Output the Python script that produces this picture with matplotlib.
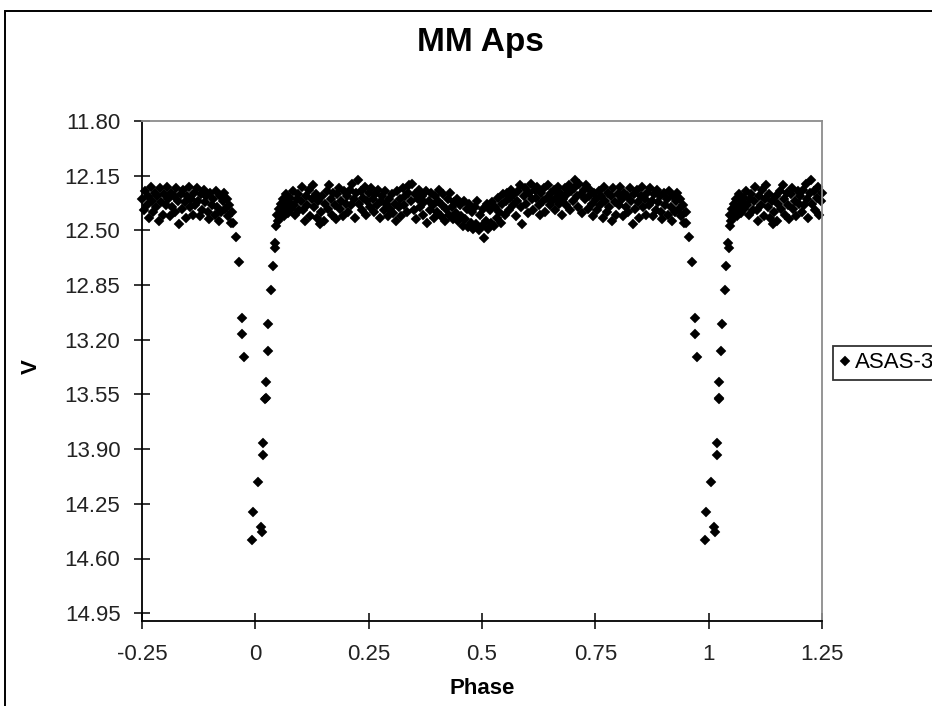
import matplotlib
matplotlib.use("Agg")
import matplotlib.pyplot as plt
from matplotlib.patches import Rectangle
import numpy as np

plt.rcParams['font.family'] = ['Liberation Sans', 'DejaVu Sans']

title = "MM Aps"
xlabel = "Phase"
ylabel = "V"
series_name = "ASAS-3"

x_ticks = [-0.25, 0, 0.25, 0.5, 0.75, 1, 1.25]
x_tick_labels = ["-0.25", "0", "0.25", "0.5", "0.75", "1", "1.25"]
y_ticks = [11.80, 12.15, 12.50, 12.85, 13.20, 13.55, 13.90, 14.25, 14.60, 14.95]
y_tick_labels = ["11.80", "12.15", "12.50", "12.85", "13.20", "13.55", "13.90", "14.25", "14.60", "14.95"]

# primary eclipse points (phase 0..1)
eclipse_phase = [0.951, 0.957, 0.963, 0.970, 0.970, 0.974, 0.993, 0.995,
                 0.005, 0.012, 0.015, 0.018, 0.018, 0.022, 0.023, 0.023,
                 0.027, 0.029, 0.035, 0.038, 0.044, 0.043]
eclipse_mag = [12.45, 12.54, 12.70, 13.06, 13.16, 13.31, 14.48, 14.30,
               14.11, 14.40, 14.43, 13.94, 13.86, 13.58, 13.57, 13.47,
               13.27, 13.10, 12.88, 12.73, 12.61, 12.58]

# out-of-eclipse points (phase 0..1)
band_phase = [
    0.046, 0.048, 0.050, 0.052, 0.054, 0.056, 0.058, 0.061, 0.063, 0.066, 0.068, 0.071, 0.074, 0.077, 0.079,
    0.082, 0.085, 0.088, 0.091, 0.094, 0.097,
    0.100, 0.103, 0.106, 0.109, 0.112, 0.115, 0.118, 0.121, 0.124, 0.127, 0.130, 0.133, 0.136, 0.139, 0.142,
    0.145, 0.148, 0.151, 0.154, 0.157, 0.160, 0.163, 0.166, 0.169, 0.172, 0.175, 0.178, 0.181, 0.184, 0.187,
    0.190, 0.193, 0.196, 0.199,
    0.202, 0.205, 0.208, 0.211, 0.214, 0.217, 0.220, 0.223, 0.226, 0.229, 0.232, 0.235, 0.238, 0.241, 0.244,
    0.247, 0.250, 0.253, 0.256, 0.259, 0.262, 0.265, 0.268, 0.271, 0.274, 0.277, 0.280, 0.283, 0.286, 0.289,
    0.292, 0.295, 0.298,
    0.301, 0.304, 0.307, 0.310, 0.313, 0.316, 0.319, 0.322, 0.325, 0.328, 0.331, 0.334, 0.337, 0.340, 0.343,
    0.346, 0.349, 0.352, 0.355, 0.358, 0.361, 0.364, 0.367, 0.370, 0.373, 0.376, 0.379, 0.382, 0.385, 0.388,
    0.391, 0.394, 0.397, 0.400, 0.403, 0.406, 0.409, 0.412, 0.415, 0.418, 0.421, 0.424, 0.427, 0.430, 0.433,
    0.436, 0.439,
    0.442, 0.445, 0.448, 0.451, 0.454, 0.457, 0.460, 0.463, 0.466, 0.469, 0.472, 0.475, 0.478, 0.481, 0.484,
    0.487, 0.490, 0.493, 0.496, 0.499, 0.502, 0.505, 0.508, 0.511, 0.514, 0.517, 0.520, 0.523, 0.526, 0.529,
    0.532, 0.535, 0.538, 0.541, 0.544, 0.547, 0.550, 0.553, 0.556,
    0.559, 0.562, 0.565, 0.568, 0.571, 0.574, 0.577, 0.580, 0.583, 0.586, 0.589, 0.592, 0.595, 0.598, 0.601,
    0.604, 0.607, 0.610, 0.613, 0.616, 0.619, 0.622, 0.625, 0.628, 0.631, 0.634, 0.637, 0.640, 0.643, 0.646,
    0.649, 0.652, 0.655, 0.658, 0.661, 0.664, 0.667, 0.670, 0.673, 0.676, 0.679, 0.682, 0.685, 0.688, 0.691,
    0.694, 0.697, 0.700, 0.703, 0.706, 0.709, 0.712, 0.715, 0.718, 0.721, 0.724, 0.727, 0.730, 0.733, 0.736,
    0.739, 0.742, 0.745, 0.748,
    0.751, 0.754, 0.757, 0.760, 0.763, 0.766, 0.769, 0.772, 0.775, 0.778, 0.781, 0.784, 0.787, 0.790, 0.793,
    0.796, 0.799, 0.802, 0.805, 0.808, 0.811, 0.814, 0.817, 0.820, 0.823, 0.826, 0.829, 0.832, 0.835, 0.838,
    0.841, 0.844, 0.847, 0.850, 0.853, 0.856, 0.859, 0.862, 0.865, 0.868, 0.871, 0.874, 0.877, 0.880, 0.883,
    0.886, 0.889, 0.892, 0.895, 0.898, 0.901, 0.904, 0.907, 0.910, 0.913, 0.916, 0.919, 0.922, 0.925, 0.928,
    0.931, 0.934, 0.937, 0.940, 0.943, 0.946, 0.949,
]
band_mag = [
    12.47, 12.40, 12.44, 12.36, 12.42, 12.33, 12.38, 12.30, 12.41, 12.35, 12.27, 12.39, 12.32, 12.29, 12.36,
    12.25, 12.34, 12.40, 12.30, 12.27, 12.37,
    12.31, 12.22, 12.37, 12.44, 12.28, 12.34, 12.24, 12.41, 12.30, 12.21,
    12.35, 12.27, 12.42, 12.31, 12.46, 12.38, 12.28, 12.44, 12.33, 12.25,
    12.36, 12.21, 12.30, 12.40, 12.26, 12.34, 12.43, 12.27, 12.23, 12.36,
    12.31, 12.41, 12.25, 12.33,
    12.28, 12.38, 12.24, 12.34, 12.20, 12.30, 12.42, 12.26, 12.18, 12.33,
    12.25, 12.37, 12.29, 12.22, 12.40, 12.31, 12.26, 12.35, 12.23, 12.30,
    12.38, 12.27, 12.34, 12.24, 12.42, 12.31, 12.28, 12.37, 12.25, 12.33,
    12.41, 12.30, 12.36,
    12.27, 12.39, 12.33, 12.44, 12.25, 12.35, 12.30, 12.41, 12.23, 12.34,
    12.28, 12.38, 12.26, 12.21, 12.31, 12.20, 12.37, 12.27, 12.43, 12.30,
    12.24, 12.35, 12.28, 12.40, 12.32, 12.25, 12.45, 12.31, 12.37, 12.26,
    12.34, 12.42, 12.28, 12.38, 12.31, 12.24, 12.41, 12.34, 12.27, 12.44,
    12.36, 12.30, 12.40, 12.26, 12.35, 12.43, 12.32,
    12.39, 12.30, 12.44, 12.34, 12.41, 12.47, 12.31, 12.43, 12.36, 12.48,
    12.33, 12.45, 12.38, 12.49, 12.35, 12.46, 12.31, 12.50, 12.40, 12.47,
    12.36, 12.55, 12.44, 12.33, 12.49, 12.37, 12.45, 12.32, 12.47, 12.35,
    12.42, 12.29, 12.38, 12.45, 12.33, 12.27, 12.40, 12.31, 12.26,
    12.37, 12.29, 12.24, 12.34, 12.27, 12.41, 12.31, 12.25, 12.21, 12.35,
    12.46, 12.28, 12.23, 12.33, 12.39, 12.26, 12.20, 12.30, 12.37, 12.24,
    12.29, 12.22, 12.34, 12.40, 12.26, 12.31, 12.23, 12.38, 12.29, 12.21,
    12.34, 12.26, 12.31, 12.24, 12.37, 12.29, 12.22, 12.33, 12.26, 12.40,
    12.30, 12.23, 12.34, 12.27, 12.21, 12.37, 12.25, 12.31, 12.23, 12.18,
    12.28, 12.35, 12.20, 12.27, 12.39, 12.24, 12.30, 12.21, 12.36, 12.28,
    12.24, 12.33, 12.41, 12.26,
    12.30, 12.37, 12.25, 12.34, 12.28, 12.42, 12.22, 12.31, 12.38, 12.26,
    12.35, 12.28, 12.44, 12.23, 12.32, 12.40, 12.27, 12.34, 12.22, 12.30,
    12.41, 12.26, 12.35, 12.28, 12.38, 12.23, 12.31, 12.46, 12.27, 12.36,
    12.24, 12.32, 12.42, 12.28, 12.22, 12.35, 12.30, 12.40, 12.26, 12.34,
    12.23, 12.31, 12.41, 12.27, 12.37, 12.24, 12.32, 12.28, 12.38, 12.43,
    12.26, 12.34, 12.30, 12.40, 12.25, 12.35, 12.44, 12.28, 12.38, 12.31,
    12.26, 12.36, 12.30, 12.41, 12.34, 12.45, 12.38,
]

phase = np.array(band_phase + eclipse_phase)
mag = np.array(band_mag + eclipse_mag)
# phase-folded display from -0.25 to 1.25
plot_phase = np.concatenate([phase - 1.0, phase + 1.0, phase])
plot_mag = np.concatenate([mag, mag, mag])
keep = (plot_phase >= -0.25) & (plot_phase <= 1.25)
plot_phase = plot_phase[keep]
plot_mag = plot_mag[keep]

fig = plt.figure(figsize=(9.32, 7.06), dpi=100)
ax = fig.add_axes([142/932, 1 - 621/706, (822-142)/932, (621-121)/706])

ax.plot(plot_phase, plot_mag, linestyle='none', marker='D', ms=4.6,
        color='black', mec='black', mew=0.3, clip_on=False, label=series_name)

ax.set_xlim(-0.25, 1.25)
ax.set_ylim(15.0, 11.8)
ax.set_xticks(x_ticks)
ax.set_xticklabels(x_tick_labels)
ax.set_yticks(y_ticks)
ax.set_yticklabels(y_tick_labels)
ax.tick_params(axis='both', direction='inout', length=11, width=1.1,
               labelsize=16, colors='black', labelcolor='#222222')
ax.tick_params(axis='y', pad=10)
ax.tick_params(axis='x', pad=11)

for s in ['left', 'bottom']:
    ax.spines[s].set_color('black')
    ax.spines[s].set_linewidth(1.3)
for s in ['top', 'right']:
    ax.spines[s].set_color('#8c8c8c')
    ax.spines[s].set_linewidth(1.3)

fig.text(480/932, 1 - 43/706, title, ha='center', va='center',
         fontsize=24, fontweight='bold')
fig.text(482/932, 1 - 688/706, xlabel, ha='center', va='center',
         fontsize=16, fontweight='bold')
fig.text(31/932, 1 - 367/706, ylabel, ha='center', va='center',
         fontsize=16, fontweight='bold', rotation=90)

leg = ax.legend(loc='center left', bbox_to_anchor=(833/932, 1 - 363/706),
                bbox_transform=fig.transFigure, fontsize=16, frameon=True,
                fancybox=False, edgecolor='black', handlelength=0.45,
                handletextpad=0.25, borderpad=0.3, borderaxespad=0,
                markerscale=1.0)
leg.get_frame().set_linewidth(1.3)

fig.patches.append(Rectangle((5/932, -0.1), 1.2, 1.1 - 11/706, transform=fig.transFigure,
                             fill=False, edgecolor='black', linewidth=1.4, figure=fig))

fig.savefig("out.png", dpi=100)
